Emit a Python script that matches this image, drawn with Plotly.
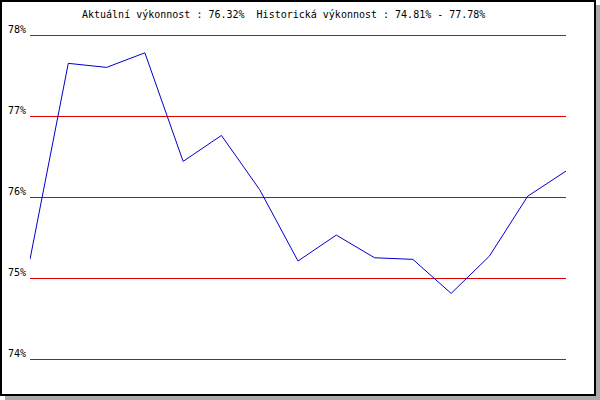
import plotly.graph_objects as go

# Data
points = list(range(15))
performance = [75.23, 77.65, 77.60, 77.78, 76.44, 76.76, 76.09, 75.21, 75.53,
               75.25, 75.23, 74.81, 75.27, 76.01, 76.32]
tick_values = [74, 75, 76, 77, 78]
tick_labels = ["74%", "75%", "76%", "77%", "78%"]
title_text = "Aktuální výkonnost : 76.32%  Historická výkonnost : 74.81% - 77.78%"

W, H = 600, 400
PAD = 2  # extra pixels so edge gridlines are kept
UNIT = 81.0  # pixels per percent
ML, MR, MT, MB = 30, 34, 35 - PAD, 41 - PAD
PW, PH = W - ML - MR, H - MT - MB
Y0 = 74 - PAD / UNIT
Y1 = 78 + PAD / UNIT


def px(x):
    return (x - ML) / PW


def py(y):
    return (H - MB - y) / PH


fig = go.Figure()
fig.add_trace(go.Scatter(
    x=points, y=performance, mode="lines",
    line=dict(color="#0000cc", width=1),
    hoverinfo="skip", showlegend=False,
))

shapes = []
# shadow
shapes.append(dict(type="rect", xref="paper", yref="paper", x0=px(596), x1=px(600), y0=py(5), y1=py(400),
                   fillcolor="#aaaaaa", line=dict(width=0), layer="above"))
shapes.append(dict(type="rect", xref="paper", yref="paper", x0=px(5), x1=px(600), y0=py(396), y1=py(400),
                   fillcolor="#aaaaaa", line=dict(width=0), layer="above"))
# black border
for (x0, x1, y0, y1) in [(0, 2, 0, 396), (0, 596, 0, 2), (594, 596, 0, 396), (0, 596, 394, 396)]:
    shapes.append(dict(type="rect", xref="paper", yref="paper", x0=px(x0), x1=px(x1), y0=py(y0), y1=py(y1),
                       fillcolor="#000000", line=dict(width=0), layer="above"))

fig.update_layout(
    width=W, height=H,
    margin=dict(l=ML, r=MR, t=MT, b=MB, pad=0, autoexpand=False),
    paper_bgcolor="white", plot_bgcolor="white",
    font=dict(family="DejaVu Sans Mono", size=10, color="black"),
    xaxis=dict(range=[0, 14], showgrid=False, zeroline=False, showticklabels=False,
               showline=False, ticks="", fixedrange=True, automargin=False),
    yaxis=dict(range=[Y0, Y1], tickvals=tick_values, ticktext=tick_labels,
               showgrid=True, gridcolor="#e00000", gridwidth=1, zeroline=False,
               showline=False, ticks="", ticklabelstandoff=3, ticklabelshift=-6,
               fixedrange=True, automargin=False),
    shapes=shapes,
    annotations=[dict(text=title_text, xref="paper", yref="paper", x=px(283.5), y=py(14),
                      xanchor="center", yanchor="middle", showarrow=False,
                      font=dict(family="DejaVu Sans Mono", size=10, color="black"))],
    hovermode=False,
)

fig.write_html("out.html", config={"displayModeBar": False},
               post_script="document.body.style.margin='0';document.body.style.overflow='hidden';")
